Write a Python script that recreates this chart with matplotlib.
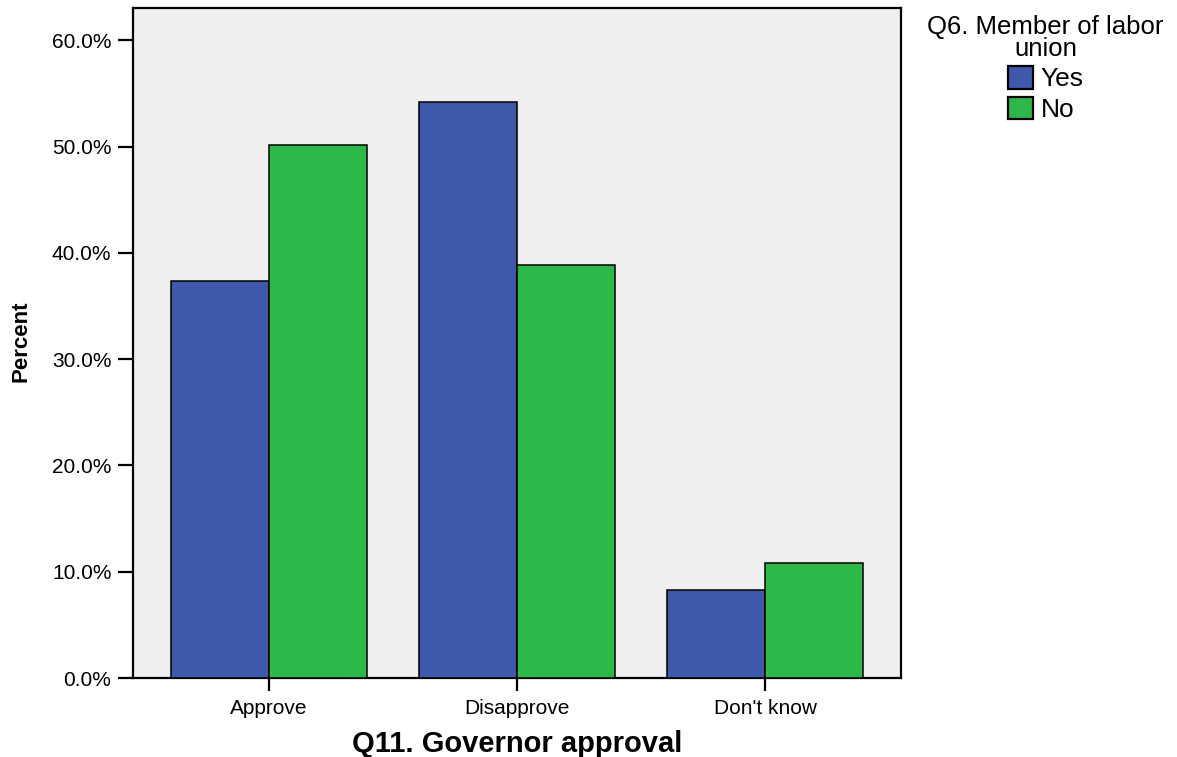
import matplotlib
matplotlib.use("Agg")
import matplotlib.pyplot as plt
from matplotlib.patches import Patch
from matplotlib.ticker import FuncFormatter
import numpy as np

categories = ["Approve", "Disapprove", "Don't know"]
series_names = ["Yes", "No"]
yes_values = [37.4, 54.2, 8.3]
no_values = [50.2, 38.9, 10.8]
y_ticks = [0, 10, 20, 30, 40, 50, 60]
colors = ["#3e58ac", "#2fb84a"]

plt.rcParams['font.family'] = ['Liberation Sans', 'DejaVu Sans']

fig = plt.figure(figsize=(11.77, 7.57), dpi=100)
ax = fig.add_axes([133/1177, 1 - 678/757, (901-133)/1177, (678-7.5)/757])
ax.set_facecolor("#efefef")

x = np.arange(len(categories))
w = 0.395
ax.bar(x - w/2, yes_values, width=w, color=colors[0], edgecolor="black", linewidth=1.1, zorder=3)
ax.bar(x + w/2, no_values, width=w, color=colors[1], edgecolor="black", linewidth=1.1, zorder=3)

ax.set_xlim(-0.548, 2.548)
ax.set_ylim(0, 63.1)
ax.set_yticks(y_ticks)
ax.yaxis.set_major_formatter(FuncFormatter(lambda v, p: f"{v:.1f}%"))
ax.set_xticks(x)
ax.set_xticklabels(categories)
for s in ax.spines.values():
    s.set_linewidth(1.6)
ax.tick_params(axis='y', length=10.5, width=1.6, labelsize=15, pad=5, colors='black')
ax.tick_params(axis='x', length=9, width=1.6, labelsize=15, pad=6)

ax.set_xlabel("Q11. Governor approval", fontsize=21, fontweight='bold', labelpad=9)
fig.text(21/1177, 1 - 341/757, "Percent", rotation=90, ha='center', va='center',
         fontsize=16, fontweight='bold', family=['Liberation Sans Narrow', 'Liberation Sans'])

handles = [Patch(facecolor=c, edgecolor='black', linewidth=1.6) for c in colors]
leg = fig.legend(handles, series_names, loc='upper left', bbox_to_anchor=(909/1177, 1 + 3/757),
                 frameon=False, fontsize=19, title="Q6. Member of labor\nunion", title_fontsize=18.5,
                 handlelength=0.95, handleheight=0.95, handletextpad=0.3, labelspacing=0.2,
                 borderpad=0.2)
leg._legend_box.align = "center"
leg.get_title().set_multialignment('center')
leg.get_title().set_linespacing(0.85)

fig.savefig("out.png", dpi=100)
